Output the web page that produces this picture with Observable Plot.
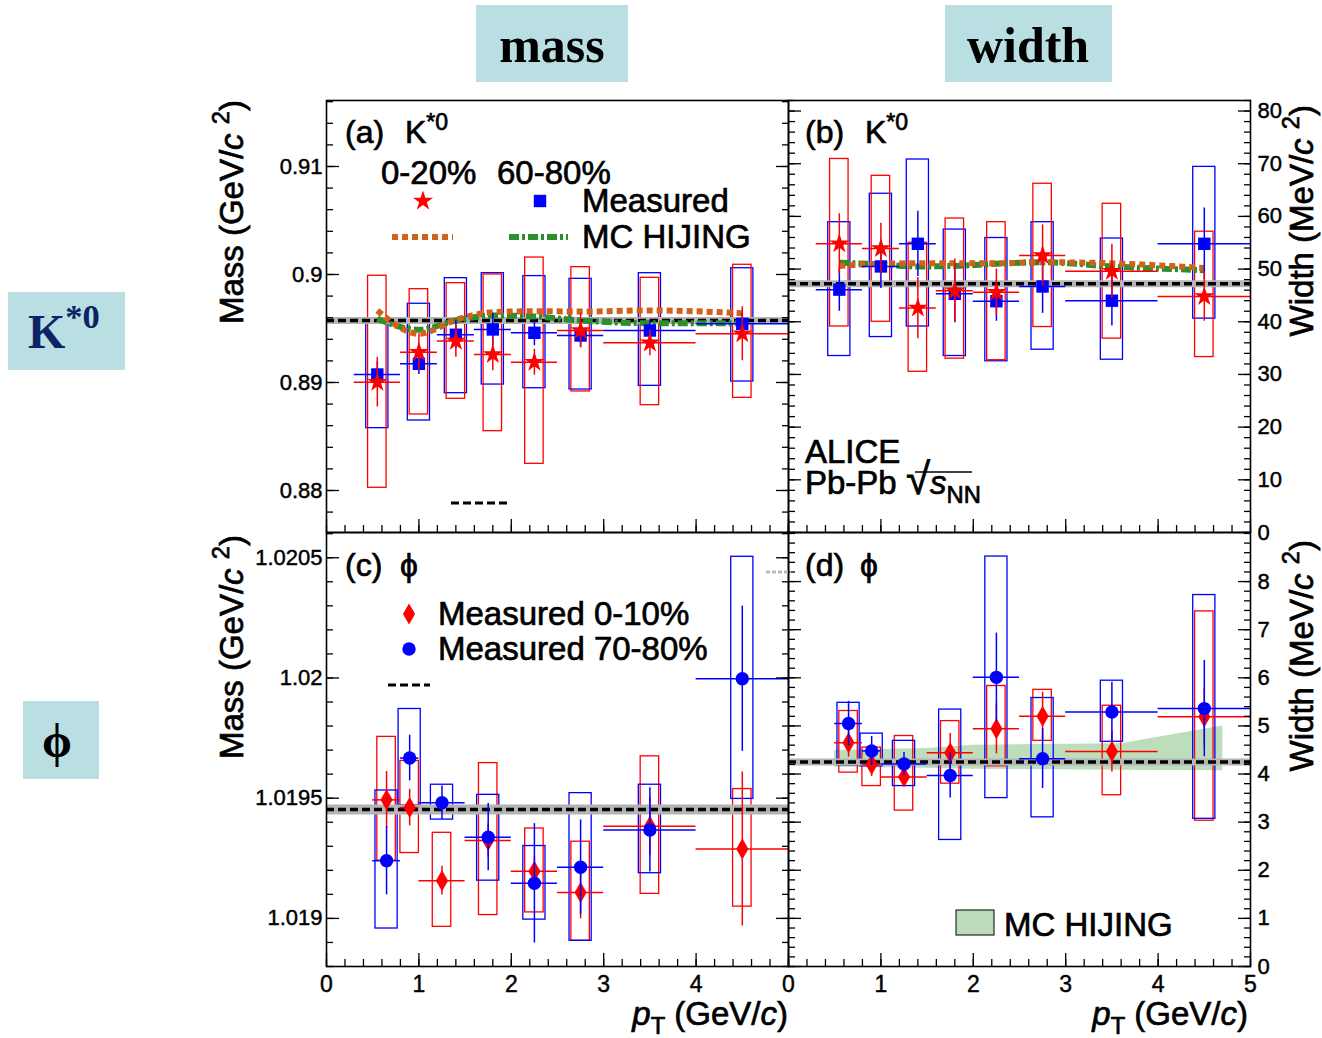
<!DOCTYPE html>
<html><head><meta charset="utf-8">
<script src="https://cdn.jsdelivr.net/npm/d3@7"></script>
<script src="https://cdn.jsdelivr.net/npm/@observablehq/plot@0.6"></script>
<style>
body{margin:0;background:#fff;}
#fig{position:relative;width:1322px;height:1038px;overflow:hidden;background:#fff;}
#fig svg{position:absolute;left:0;top:0;}
#fig svg g[aria-label$="tick label"] text{stroke:black;stroke-width:0.45px;}
</style></head><body><div id="fig"></div>
<script>
// ---------------- DATA ----------------
// K*0 pT bins (GeV/c)
const ptK     = [0.55, 1.0, 1.4, 1.8, 2.25, 2.75, 3.5, 4.5];
const binLoK  = [0.3, 0.8, 1.2, 1.6, 2.0, 2.5, 3.0, 4.0];
const binHiK  = [0.8, 1.2, 1.6, 2.0, 2.5, 3.0, 4.0, 5.0];
// phi pT bins
const ptPhi    = [0.65, 0.9, 1.25, 1.75, 2.25, 2.75, 3.5, 4.5];
const binLoPhi = [0.5, 0.8, 1.0, 1.5, 2.0, 2.5, 3.0, 4.0];
const binHiPhi = [0.8, 1.0, 1.5, 2.0, 2.5, 3.0, 4.0, 5.0];

// (a) K*0 mass (GeV/c^2)
const massK_c = [0.89003, 0.89281, 0.89383, 0.89259, 0.89188, 0.89481, 0.89367, 0.89451]; // 0-20%
const massK_cStat = [0.0023, 0.0017, 0.0015, 0.0015, 0.0012, 0.0016, 0.0012, 0.0025];
const massK_cSysLo = [0.88025, 0.88704, 0.88849, 0.88549, 0.88247, 0.88917, 0.88790, 0.88858];
const massK_cSysHi = [0.89988, 0.89864, 0.89920, 0.90000, 0.90157, 0.90068, 0.89969, 0.90090];
const massK_p = [0.89074, 0.89173, 0.89442, 0.89491, 0.89460, 0.89435, 0.89481, 0.89543]; // 60-80%
const massK_pStat = [0.0012, 0.0010, 0.0013, 0.0015, 0.0012, 0.0011, 0.0010, 0.0010];
const massK_pSysLo = [0.88577, 0.88648, 0.88901, 0.88981, 0.88947, 0.88935, 0.88969, 0.89009];
const massK_pSysHi = [0.89581, 0.89729, 0.89966, 0.90012, 0.89985, 0.89960, 0.90012, 0.90058];
const massK_mcC = [0.89667, 0.89451, 0.89580, 0.89651, 0.89660, 0.89657, 0.89667, 0.89642];
const massK_mcP = [0.89590, 0.89488, 0.89574, 0.89620, 0.89611, 0.89574, 0.89549, 0.89549];
const massK_pdg = 0.89574;

// (b) K*0 width (MeV/c^2)
const widK_c = [54.8, 53.9, 42.6, 45.9, 45.6, 52.6, 49.6, 44.8];
const widK_cStat = [5.7, 4.8, 5.8, 6.0, 4.4, 5.8, 5.1, 4.7];
const widK_cSysLo = [39.1, 40.0, 30.5, 33.0, 32.7, 39.0, 36.8, 33.3];
const widK_cSysHi = [70.9, 67.7, 55.0, 59.6, 58.9, 66.2, 62.4, 57.1];
const widK_p = [46.1, 50.5, 54.8, 45.3, 43.9, 46.7, 44.0, 54.8];
const widK_pStat = [4.1, 4.2, 6.2, 5.5, 3.8, 5.1, 4.8, 6.8];
const widK_pSysLo = [33.5, 37.1, 39.1, 33.5, 32.5, 34.7, 32.8, 40.6];
const widK_pSysHi = [58.9, 64.3, 70.8, 57.5, 55.9, 58.9, 55.8, 69.4];
const widK_mcC = [50.6, 51.0, 51.1, 51.1, 51.1, 51.3, 51.1, 50.2];
const widK_mcP = [51.2, 50.9, 50.5, 50.6, 51.0, 51.3, 50.5, 49.8];
const widK_pdg = 47.2;

// (c) phi mass (GeV/c^2)
const massPhi_c = [1.019493, 1.019461, 1.019157, 1.019324, 1.019196, 1.019108, 1.019383, 1.019289]; // 0-10%
const massPhi_cStat = [0.000118, 0.000076, 0.00006, 0.00007, 0.00006, 0.00011, 0.00012, 0.00032];
const massPhi_cSysLo = [1.019240, 1.019272, 1.018965, 1.019014, 1.019025, 1.018907, 1.019102, 1.019049];
const massPhi_cSysHi = [1.019755, 1.019655, 1.019356, 1.019646, 1.019374, 1.019319, 1.019674, 1.019538];
const massPhi_p = [1.019240, 1.019667, 1.019481, 1.019338, 1.019146, 1.019213, 1.019368, 1.019997]; // 70-80%
const massPhi_pStat = [0.000142, 0.000095, 0.00007, 0.00014, 0.000248, 0.000197, 0.000175, 0.000302];
const massPhi_pSysLo = [1.018958, 1.019470, 1.019411, 1.019157, 1.018995, 1.018907, 1.019188, 1.019497];
const massPhi_pSysHi = [1.019532, 1.019871, 1.019556, 1.019514, 1.019301, 1.019521, 1.019556, 1.020504];
const massPhi_pdg = 1.019453;

// (d) phi width (MeV/c^2)
const widPhi_c = [4.65, 4.20, 3.94, 4.44, 4.94, 5.20, 4.47, 5.19];
const widPhi_cStat = [0.30, 0.25, 0.20, 0.40, 0.52, 0.50, 0.43, 0.60];
const widPhi_cSysLo = [4.03, 3.75, 3.24, 3.80, 4.16, 4.69, 3.56, 3.03];
const widPhi_cSysHi = [5.31, 4.55, 4.79, 5.10, 5.83, 5.75, 5.42, 7.38];
const widPhi_p = [5.05, 4.48, 4.21, 3.97, 6.01, 4.32, 5.29, 5.36];
const widPhi_pStat = [0.46, 0.30, 0.24, 0.47, 0.92, 0.62, 0.62, 1.00];
const widPhi_pSysLo = [4.18, 4.16, 3.75, 2.63, 3.50, 3.10, 4.67, 3.07];
const widPhi_pSysHi = [5.48, 4.84, 4.69, 5.34, 8.52, 5.58, 5.94, 7.72];
const widPhi_pdg = 4.25;
// MC HIJING band for phi width
const hijPt = [0.5, 1.5, 2.0, 3.6, 4.7];
const hijLo = [4.14, 4.12, 4.10, 4.08, 4.07];
const hijHi = [4.49, 4.53, 4.60, 4.63, 5.00];

// Axis tick labels
const xTickLabelsC = [0, 1, 2, 3, 4];
const xTickLabelsD = [0, 1, 2, 3, 4, 5];
const yTicksA = [0.88, 0.89, 0.9, 0.91];
const yTicksB = [0, 10, 20, 30, 40, 50, 60, 70, 80];
const yTicksC = [1.019, 1.0195, 1.02, 1.0205];
const yTicksD = [0, 1, 2, 3, 4, 5, 6, 7, 8];

// ---------------- STYLE ----------------
const W = 1322, H = 1038;
const FONT = '"Liberation Sans", Arial, Helvetica, sans-serif';
const RED = "#ff0000", BLUE = "#0000ff";
const ORANGE = "#d0611b", GREEN = "#2b8f2b";
const fig = document.getElementById("fig");

function series(pt, lo, hi, val, stat, sysLo, sysHi) {
  return pt.map((p, i) => ({pt: p, lo: lo[i], hi: hi[i], v: val[i], e: stat[i], sl: sysLo[i], sh: sysHi[i]}));
}
function seriesMarks(data, color, symbol, r, hw) {
  return {
    boxes: Plot.rect(data, {x1: d => d.pt - hw, x2: d => d.pt + hw, y1: "sl", y2: "sh", stroke: color, strokeWidth: 1.3, fill: "none", clip: true}),
    bars: [
      Plot.ruleY(data, {y: "v", x1: "lo", x2: "hi", stroke: color, strokeWidth: 1.5, clip: true}),
      Plot.ruleX(data, {x: "pt", y1: d => d.v - d.e, y2: d => d.v + d.e, stroke: color, strokeWidth: 1.5, clip: true})
    ],
    dots: Plot.dot(data, {x: "pt", y: "v", symbol, r, fill: color, stroke: "none"})
  };
}
function step(a, b, s) { const n = Math.round((b - a) / s); return d3.range(n + 1).map(i => +(a + i * s).toFixed(6)); }

function axesMarks(cfg) {
  const m = [];
  const none = () => "";
  for (const side of ["left", "right"]) {
    const lab = cfg.yLabelSide === side;
    m.push(Plot.axisY(cfg.yMinor, {anchor: side, tickSize: -7, tickFormat: none, label: null, strokeWidth: 1.3}));
    m.push(Plot.axisY(cfg.yMajor, {anchor: side, tickSize: -13, tickPadding: side === "left" ? 17 : 20,
      tickFormat: lab ? cfg.yFmt : none, label: null, fontSize: 22, strokeWidth: 1.3}));
  }
  m.push(Plot.axisX(step(0, 5, 0.2), {anchor: "bottom", tickSize: -7, tickFormat: none, label: null, strokeWidth: 1.3}));
  m.push(Plot.axisX(cfg.xLabels || [0, 1, 2, 3, 4, 5], {anchor: "bottom", tickSize: -13, tickPadding: 22,
    tickFormat: cfg.xLabels ? d => (cfg.xLabels.includes(d) ? String(d) : "") : none, label: null, fontSize: 23, strokeWidth: 1.3}));
  return m;
}

function panel(cfg) {
  const [L, T, R, B] = cfg.frame;
  const svg = Plot.plot({
    width: W, height: H,
    marginLeft: L, marginTop: T, marginRight: W - R, marginBottom: H - B,
    x: {domain: [0, 5]},
    y: {domain: cfg.yDomain},
    style: {background: "transparent", overflow: "visible", fontFamily: FONT, color: "black"},
    marks: [...cfg.marks, ...axesMarks(cfg), Plot.frame({stroke: "black", strokeWidth: 1.6})]
  });
  fig.appendChild(svg);
}
function refLine(v, band) {
  return [
    Plot.ruleY([v], {stroke: "#b4b4b4", strokeWidth: band}),
    Plot.ruleY([v], {stroke: "black", strokeWidth: 3.5, strokeDasharray: "8,4"})
  ];
}
function mcLine(ys, color, dash) {
  return Plot.line(ptK.map((x, i) => ({x, y: ys[i]})), {x: "x", y: "y", stroke: color, strokeWidth: 6,
    strokeDasharray: dash, strokeLinecap: "butt", strokeLinejoin: "miter", curve: "monotone-x"});
}

// ---------- panel (a)
{
  const c = seriesMarks(series(ptK, binLoK, binHiK, massK_c, massK_cStat, massK_cSysLo, massK_cSysHi), RED, "star", 6.3, 0.1);
  const p = seriesMarks(series(ptK, binLoK, binHiK, massK_p, massK_pStat, massK_pSysLo, massK_pSysHi), BLUE, "square", 7, 0.12);
  panel({
    frame: [326, 100, 788, 532], yDomain: [0.87611, 0.91611],
    yMajor: yTicksA, yMinor: step(0.878, 0.916, 0.002), yFmt: d => String(d), yLabelSide: "left",
    marks: [p.boxes, c.boxes, ...refLine(massK_pdg, 7),
      mcLine(massK_mcP, GREEN, "10,3,3,3"), mcLine(massK_mcC, ORANGE, "6,4"),
      ...p.bars, p.dots, ...c.bars, c.dots]
  });
}
// ---------- panel (b)
{
  const c = seriesMarks(series(ptK, binLoK, binHiK, widK_c, widK_cStat, widK_cSysLo, widK_cSysHi), RED, "star", 6.3, 0.1);
  const p = seriesMarks(series(ptK, binLoK, binHiK, widK_p, widK_pStat, widK_pSysLo, widK_pSysHi), BLUE, "square", 7, 0.12);
  panel({
    frame: [788, 100, 1250, 532], yDomain: [0, 82],
    yMajor: yTicksB, yMinor: step(0, 82, 2), yFmt: d => String(d), yLabelSide: "right",
    marks: [p.boxes, c.boxes, ...refLine(widK_pdg, 7),
      mcLine(widK_mcP, GREEN, "10,3,3,3"), mcLine(widK_mcC, ORANGE, "6,4"),
      ...p.bars, p.dots, ...c.bars, c.dots]
  });
}
// ---------- panel (c)
{
  const c = seriesMarks(series(ptPhi, binLoPhi, binHiPhi, massPhi_c, massPhi_cStat, massPhi_cSysLo, massPhi_cSysHi), RED, "diamond", 6.4, 0.1);
  const p = seriesMarks(series(ptPhi, binLoPhi, binHiPhi, massPhi_p, massPhi_pStat, massPhi_pSysLo, massPhi_pSysHi), BLUE, "circle", 6.7, 0.12);
  panel({
    frame: [326, 532, 788, 966], yDomain: [1.0188, 1.020605],
    yMajor: yTicksC, yMinor: step(1.0188, 1.0206, 0.0001), yFmt: d => String(d), yLabelSide: "left",
    xLabels: xTickLabelsC,
    marks: [c.boxes, p.boxes, ...refLine(massPhi_pdg, 10), ...c.bars, c.dots, ...p.bars, p.dots]
  });
}
// ---------- panel (d)
{
  const c = seriesMarks(series(ptPhi, binLoPhi, binHiPhi, widPhi_c, widPhi_cStat, widPhi_cSysLo, widPhi_cSysHi), RED, "diamond", 6.4, 0.1);
  const p = seriesMarks(series(ptPhi, binLoPhi, binHiPhi, widPhi_p, widPhi_pStat, widPhi_pSysLo, widPhi_pSysHi), BLUE, "circle", 6.7, 0.12);
  panel({
    frame: [788, 532, 1250, 966], yDomain: [0, 9.02],
    yMajor: yTicksD, yMinor: step(0, 9, 0.2), yFmt: d => String(d), yLabelSide: "right",
    xLabels: xTickLabelsD,
    marks: [
      Plot.areaY(hijPt.map((x, i) => ({x, lo: hijLo[i], hi: hijHi[i]})), {x: "x", y1: "lo", y2: "hi", fill: "#b6dab2", fillOpacity: 0.9}),
      c.boxes, p.boxes, ...refLine(widPhi_pdg, 7), ...c.bars, c.dots, ...p.bars, p.dots]
  });
}

// ---------------- OVERLAY TEXT / LEGENDS ----------------
const ov = d3.select(fig).append("svg").attr("width", W).attr("height", H);
function rich(x, y, parts, o = {}) {
  const size = o.size || 33;
  const fill = o.fill || "black";
  const t = ov.append("text")
    .attr("transform", `translate(${x},${y}) rotate(${o.rotate || 0})`)
    .attr("text-anchor", o.anchor || "start")
    .attr("font-size", size).attr("font-family", o.family || FONT)
    .attr("font-weight", o.weight || "normal").attr("fill", fill)
    .attr("stroke", o.bold === 0 ? "none" : fill).attr("stroke-width", o.bold == null ? 0.7 : o.bold);
  let shift = 0;
  for (const p of parts) {
    const [s, st, fsz] = typeof p === "string" ? [p, ""] : p;
    const ts = t.append("tspan").text(s);
    let target = 0, fs = size;
    if (st.includes("^")) { target = -size * 0.42; fs = size * 0.72; }
    if (st.includes("_")) { target = size * 0.28; fs = size * 0.72; }
    if (st.includes("i")) ts.attr("font-style", "italic");
    ts.attr("font-size", fsz || fs);
    if (target !== shift) { ts.attr("dy", target - shift); shift = target; }
  }
  return t;
}
function sym(type, r, x, y, color) {
  ov.append("path").attr("d", d3.symbol(type, Math.PI * r * r)()).attr("transform", `translate(${x},${y})`).attr("fill", color);
}
function seg(x1, x2, y, color, w, dash) {
  ov.append("line").attr("x1", x1).attr("x2", x2).attr("y1", y).attr("y2", y)
    .attr("stroke", color).attr("stroke-width", w).attr("stroke-dasharray", dash);
}

// column / row headers
const HDR = "#b9dfe2";
const SERIF = '"Liberation Serif", "Times New Roman", serif';
ov.append("rect").attr("x", 476).attr("y", 5).attr("width", 152).attr("height", 77).attr("fill", HDR);
rich(552, 62, ["mass"], {size: 50, anchor: "middle", family: SERIF, weight: "bold", bold: 0});
ov.append("rect").attr("x", 945).attr("y", 5).attr("width", 167).attr("height", 77).attr("fill", HDR);
rich(1028, 62, ["width"], {size: 50, anchor: "middle", family: SERIF, weight: "bold", bold: 0});
ov.append("rect").attr("x", 8).attr("y", 292).attr("width", 117).attr("height", 78).attr("fill", HDR);
rich(28, 348, ["K", ["*0", "^"]], {size: 48, family: SERIF, weight: "bold", fill: "#0b2466", bold: 0});
ov.append("rect").attr("x", 23).attr("y", 701).attr("width", 76).attr("height", 78).attr("fill", HDR);
rich(57, 757, ["ϕ"], {size: 48, anchor: "middle", family: SERIF, weight: "bold", bold: 0});

// axis titles
rich(243, 100, ["Mass (GeV/", ["c", "i"], " ", ["2", "^"], ")"], {rotate: -90, anchor: "end"});
rich(243, 535, ["Mass (GeV/", ["c", "i"], " ", ["2", "^"], ")"], {rotate: -90, anchor: "end"});
rich(1313, 105, ["Width (MeV/", ["c", "i"], " ", ["2", "^"], ")"], {rotate: -90, anchor: "end"});
rich(1313, 540, ["Width (MeV/", ["c", "i"], " ", ["2", "^"], ")"], {rotate: -90, anchor: "end"});
rich(788, 1025, [["p", "i"], ["T", "_"], " (GeV/", ["c", "i"], ")"], {anchor: "end"});
rich(1248, 1025, [["p", "i"], ["T", "_"], " (GeV/", ["c", "i"], ")"], {anchor: "end"});

// panel labels
rich(345, 143, ["(a)"], {size: 32}); rich(405, 143, ["K", ["*0", "^"]], {size: 32});
rich(805, 143, ["(b)"], {size: 32}); rich(865, 143, ["K", ["*0", "^"]], {size: 32});
rich(345, 576, ["(c)"], {size: 32}); rich(400, 576, ["ϕ"], {size: 32});
rich(805, 576, ["(d)"], {size: 32}); rich(860, 576, ["ϕ"], {size: 32});

// legend (a)
rich(381, 184, ["0-20%"]); rich(497, 184, ["60-80%"]);
sym(d3.symbolStar, 6.3, 423, 201, RED); sym(d3.symbolSquare, 7, 540, 201, BLUE);
rich(582, 212, ["Measured"]);
seg(392, 453, 237, ORANGE, 6, "6,4");
seg(509, 568, 237, GREEN, 6, "10,3,3,3");
rich(582, 248, ["MC HIJING"]);
seg(451, 511, 503, "black", 3, "8,4");

// ALICE label (b)
rich(805, 463, ["ALICE"]);
rich(805, 494, ["Pb-Pb ", ["√", "", 44], ["s", "i"], ["NN", "_"]]);
ov.append("line").attr("x1", 915).attr("x2", 972).attr("y1", 472).attr("y2", 472).attr("stroke", "black").attr("stroke-width", 1.4);

// legend (c)
sym(d3.symbolDiamond, 6.4, 409, 614, RED); rich(438, 625, ["Measured 0-10%"]);
sym(d3.symbolCircle, 6.7, 409, 649, BLUE); rich(438, 660, ["Measured 70-80%"]);
seg(388, 430, 685, "black", 3, "8,4");
seg(766, 791, 572, "#bbbbbb", 3, "4,2");

// legend (d)
ov.append("rect").attr("x", 956).attr("y", 910).attr("width", 38).attr("height", 25).attr("fill", "#bcdcb9").attr("stroke", "black").attr("stroke-width", 1);
rich(1004, 936, ["MC HIJING"]);
</script></body></html>
